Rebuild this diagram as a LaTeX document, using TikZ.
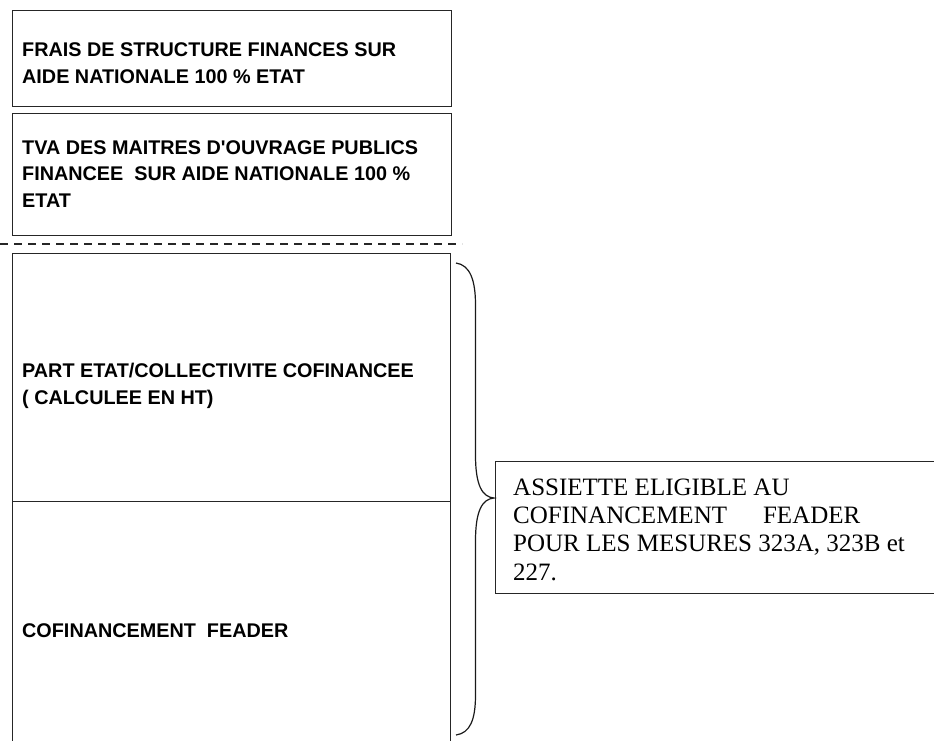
\documentclass[tikz,border=0pt]{standalone}
\usepackage{fontspec}
\setmainfont{Liberation Serif}
\setsansfont{Liberation Sans}[Ligatures=TeXOff]
\begin{document}
\begin{tikzpicture}[x=1pt,y=-1pt,
  box/.style={draw=black!85,line width=1.1pt,inner sep=0pt,anchor=north west},
  lbl/.style={anchor=base west,inner sep=0pt,align=left,font=\sffamily\bfseries\fontsize{19.8}{26.5}\selectfont},
  rlbl/.style={anchor=base west,inner sep=0pt,align=left,font=\rmfamily\fontsize{25}{28.3}\selectfont},
  sep/.style={draw=black!85,line width=1.3pt,dash pattern=on 8pt off 6pt}]
\clip (0,0) rectangle (934,740);
\fill[white] (0,0) rectangle (934,740);
% top boxes
\node[box,minimum width=439pt,minimum height=96pt] (b1) at (12,10) {};
\node[lbl] (t1) at (22,83) {FRAIS DE STRUCTURE FINANCES SUR\\AIDE NATIONALE 100 \% ETAT};
\node[box,minimum width=439pt,minimum height=122pt] (b2) at (12,113) {};
\node[lbl] (t2) at (22,207) {TVA DES MAITRES D'OUVRAGE PUBLICS\\FINANCEE\ \ SUR AIDE NATIONALE 100 \%\\ETAT};
% dashed separator
\coordinate (s1) at (0,244);
\coordinate (s2) at (462,244);
\draw[sep] (s1) -- (s2);
% lower boxes
\node[box,minimum width=438pt,minimum height=248pt] (b3) at (12,253) {};
\node[lbl] (t3) at (22,404) {PART ETAT/COLLECTIVITE COFINANCEE\\( CALCULEE EN HT)};
\node[box,minimum width=438pt,minimum height=260pt] (b4) at (12,501) {};
\node[lbl] (t4) at (22,637) {COFINANCEMENT\ \ FEADER};
% right box
\node[box,minimum width=460pt,minimum height=132pt] (b5) at (495,461) {};
\node[rlbl] (t5) at (513,580) {ASSIETTE ELIGIBLE AU\\COFINANCEMENT\hspace{36pt}FEADER\\POUR LES MESURES 323A, 323B et\\227.};
% brace
\coordinate (br1) at (456,263);
\coordinate (brm) at (494,498);
\coordinate (br2) at (456,735);
\draw[line width=1.2pt,black!90] (br1) .. controls (470,265) and (475.5,280) .. (475.5,305)
  -- (475.5,455) .. controls (475.5,485) and (482,497) .. (brm)
  .. controls (482,499) and (475.5,511) .. (475.5,541)
  -- (475.5,695) .. controls (475.5,720) and (470,733) .. (br2);
\end{tikzpicture}
\end{document}
